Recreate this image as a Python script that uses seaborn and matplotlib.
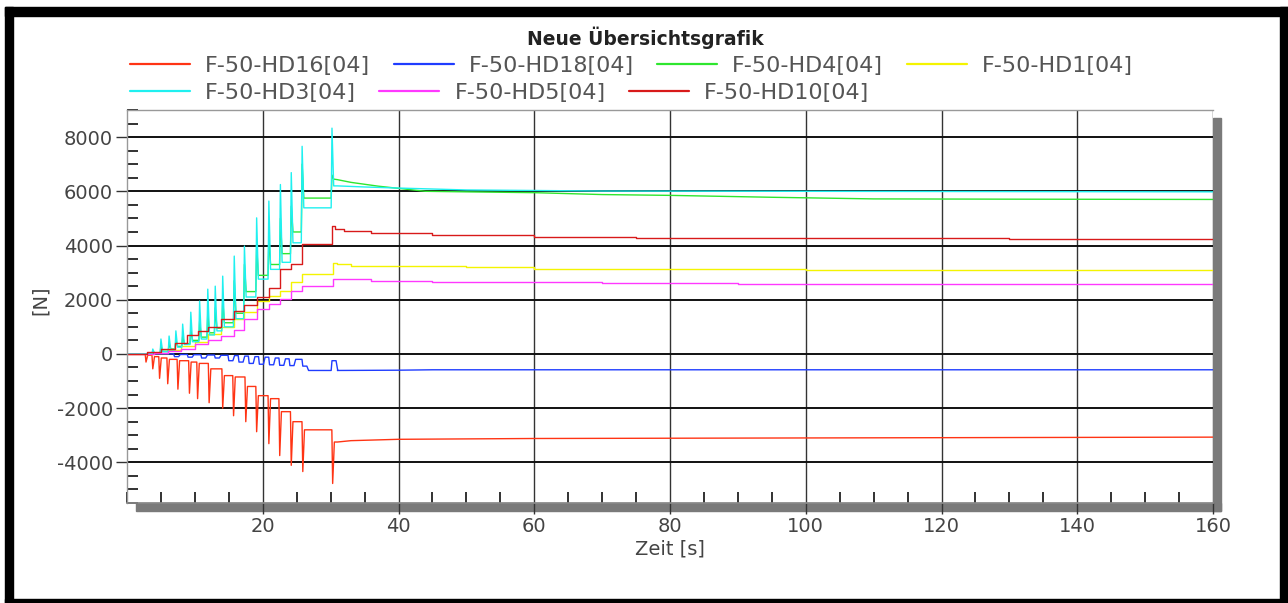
import pandas as pd
import matplotlib.pyplot as plt
import seaborn as sns
from matplotlib.patches import Rectangle
from matplotlib.lines import Line2D
from matplotlib.ticker import MultipleLocator

sns.set_theme(style="white")
plt.rcParams["font.family"] = ["DejaVu Sans"]
plt.rcParams["axes.unicode_minus"] = False

# ---- data ----
names = ["F-50-HD16[04]", "F-50-HD18[04]", "F-50-HD4[04]", "F-50-HD1[04]",
         "F-50-HD3[04]", "F-50-HD5[04]", "F-50-HD10[04]"]
colors = ["#ff3414", "#1f3cff", "#2ee62e", "#f4f400", "#1ff0f0", "#ff38ff", "#d81a1a"]

# HD3 (cyan): load spikes, level after each spike, then relaxation tail
hd3_spike_t = [3.8, 5.0, 6.2, 7.2, 8.2, 9.4, 10.7, 11.9, 13.0, 14.1, 15.8, 17.3, 19.1, 20.9, 22.6, 24.2, 25.8, 30.2]
hd3_peak = [180, 550, 660, 850, 1100, 1540, 1950, 2390, 2500, 2870, 3610, 3980, 5020, 5640, 6250, 6690, 7660, 8330]
hd3_base = [30, 80, 150, 250, 350, 450, 550, 700, 850, 1000, 1300, 2100, 2760, 3120, 3380, 4100, 5390, 6200]
hd3_tail_t = [31, 35, 40, 50, 60, 70, 100, 130, 160]
hd3_tail_v = [6200, 6160, 6120, 6050, 6030, 6010, 6000, 5990, 5980]

# HD4 (green)
hd4_peak = [100, 300, 400, 500, 650, 900, 1200, 1500, 1700, 2000, 2700, 3300, 4000, 4300, 5000, 5450, 7000, 6600]
hd4_base = [30, 100, 180, 280, 380, 500, 620, 780, 950, 1150, 1500, 2300, 2900, 3300, 3700, 4500, 5750, 6450]
hd4_tail_t = [31, 33, 37, 44, 50, 60, 70, 80, 95, 110, 130, 160]
hd4_tail_v = [6430, 6330, 6190, 6000, 5980, 5950, 5880, 5850, 5780, 5720, 5710, 5700]

# HD16 (red, negative)
hd16_spike_t = [2.8, 3.8, 4.8, 6.0, 7.5, 9.2, 10.4, 12.1, 14.1, 15.7, 17.5, 19.1, 20.9, 22.5, 24.2, 25.9, 30.3]
hd16_peak = [-300, -550, -900, -1100, -1300, -1450, -1650, -1800, -2000, -2280, -2500, -2870, -3310, -3750, -4110, -4340, -4780]
hd16_base = [-50, -100, -150, -200, -250, -300, -350, -550, -800, -850, -1200, -1540, -1650, -2130, -2500, -2800, -3250]
hd16_tail_t = [31, 33, 40, 60, 100, 120, 160]
hd16_tail_v = [-3250, -3200, -3150, -3120, -3100, -3090, -3070]

# HD18 (blue): small dips, then constant level
hd18_dip_t = [7, 9, 11, 13, 15, 16.5, 18, 19.5, 21, 22.5, 24, 25.9, 30.2]
hd18_dip = [-100, -120, -150, -150, -250, -300, -350, -380, -400, -420, -430, -450, -250]
hd18_base = [-20, -30, -40, -50, -60, -80, -100, -120, -150, -180, -200, -610, -610]
hd18_tail_t = [31, 40, 45, 160]
hd18_tail_v = [-610, -600, -585, -585]

# stair-like series (value held from each time to the next)
hd10_t = [0, 3, 5, 7, 8.8, 10.5, 11.9, 13.8, 15.7, 17.3, 19.1, 20.9, 22.6, 24.2, 25.8, 30.2, 30.6, 32, 36, 45, 60, 75, 90, 110, 130, 160]
hd10_v = [0, 80, 200, 400, 700, 850, 1000, 1300, 1600, 1800, 2100, 2450, 3150, 3300, 4050, 4720, 4600, 4520, 4450, 4380, 4330, 4290, 4270, 4260, 4240, 4240]
hd1_t = [0, 4, 6, 8, 10, 11.9, 13.8, 15.7, 17.3, 19.1, 20.9, 22.6, 24.2, 25.8, 30.3, 31, 33, 40, 50, 60, 75, 100, 130, 160]
hd1_v = [0, 50, 150, 300, 450, 750, 1000, 1300, 1540, 1960, 2150, 2330, 2650, 2940, 3370, 3300, 3260, 3230, 3200, 3150, 3130, 3110, 3100, 3090]
hd5_t = [0, 4, 6, 8, 10, 11.9, 13.8, 15.7, 17.3, 19.1, 20.9, 22.6, 24.2, 25.8, 30.3, 32, 36, 45, 60, 70, 90, 120, 160]
hd5_v = [0, 40, 100, 200, 350, 500, 650, 900, 1290, 1650, 1840, 2020, 2330, 2510, 2780, 2750, 2700, 2670, 2640, 2610, 2590, 2590, 2580]


def spiky(spike_t, peak, base, tail_t, tail_v, hold=0.0):
    ts, vs = [0.0, spike_t[0] - 0.5], [0.0, 0.0]
    prev = 0.0
    for t, p, b in zip(spike_t, peak, base):
        ts += [t - 0.12, t, t + hold, t + hold + 0.25]
        vs += [prev, p, p, b]
        prev = b
    return ts + tail_t, vs + tail_v


series = {
    names[0]: spiky(hd16_spike_t, hd16_peak, hd16_base, hd16_tail_t, hd16_tail_v),
    names[1]: spiky(hd18_dip_t, hd18_dip, hd18_base, hd18_tail_t, hd18_tail_v, hold=0.6),
    names[2]: spiky(hd3_spike_t, hd4_peak, hd4_base, hd4_tail_t, hd4_tail_v),
    names[3]: (hd1_t, hd1_v),
    names[4]: spiky(hd3_spike_t, hd3_peak, hd3_base, hd3_tail_t, hd3_tail_v),
    names[5]: (hd5_t, hd5_v),
    names[6]: (hd10_t, hd10_v),
}
stairs = {names[3], names[5], names[6]}

W, H = 1288, 603
fig = plt.figure(figsize=(W / 100, H / 100), dpi=100)


def fx(px):
    return px / W


def fy(py):
    return 1 - py / H


ax = fig.add_axes([fx(127), fy(503), fx(1213) - fx(127), fy(110) - fy(503)])

for name, col in zip(names, colors):
    t, v = series[name]
    df = pd.DataFrame({"t": t, "F": v})
    sns.lineplot(data=df, x="t", y="F", ax=ax, color=col, lw=1.0, sort=False,
                 estimator=None, drawstyle="steps-post" if name in stairs else "default")

ax.set_xlim(0, 160)
ax.set_ylim(-5500, 9000)
ax.set_xticks(range(20, 161, 20))
ax.set_yticks(range(-4000, 8001, 2000))
ax.xaxis.set_minor_locator(MultipleLocator(5))
ax.yaxis.set_minor_locator(MultipleLocator(500))
ax.set_xlabel("")
ax.set_ylabel("")
ax.set_axisbelow(True)
ax.xaxis.grid(True, which="major", color="#333333", lw=1.0)
ax.yaxis.grid(True, which="major", color="#111111", lw=1.4)
ax.tick_params(which="both", bottom=True, left=True, top=False, right=False)
ax.tick_params(which="major", direction="out", length=8, width=1, color="#333",
               labelsize=14, labelcolor="#444", pad=2)
ax.tick_params(which="minor", direction="in", length=8, width=1.3, color="#222")
for s in ["left", "top"]:
    ax.spines[s].set_color("#999")
    ax.spines[s].set_linewidth(1)
ax.spines["right"].set_visible(False)
ax.spines["bottom"].set_color("#888")

# drop shadow of the plot area
fig.add_artist(Rectangle((fx(136), fy(511)), fx(1221) - fx(136), fy(503) - fy(511),
                         transform=fig.transFigure, color="#7a7a7a", zorder=-1))
fig.add_artist(Rectangle((fx(1213), fy(511)), fx(1221) - fx(1213), fy(118) - fy(511),
                         transform=fig.transFigure, color="#7a7a7a", zorder=-1))

# black screenshot frame
for x0, y0, x1, y1 in [(5, 7, 13, 603), (5, 7, 1288, 16), (1280, 7, 1288, 603), (5, 599, 1288, 603)]:
    fig.add_artist(Rectangle((fx(x0), fy(y1)), fx(x1) - fx(x0), fy(y0) - fy(y1),
                             transform=fig.transFigure, color="black", zorder=5))

fig.text(fx(645), fy(38), "Neue Übersichtsgrafik", ha="center", va="center",
         fontsize=13.5, fontweight="bold", color="#222")
fig.text(fx(40), fy(300), "[N]", rotation=90, ha="center", va="center", fontsize=14, color="#444")
fig.text(fx(670), fy(549), "Zeit [s]", ha="center", va="center", fontsize=14, color="#444")

handles = [Line2D([], [], color=c, lw=1.6) for c in colors]
leg_kw = dict(loc="center left", frameon=False, fontsize=16, handlelength=2.7,
              handletextpad=0.68, columnspacing=1.05, borderpad=0, borderaxespad=0,
              labelcolor="#555")
fig.legend(handles[:4], names[:4], ncol=4, bbox_to_anchor=(fx(130), fy(66)), **leg_kw)
fig.legend(handles[4:], names[4:], ncol=3, bbox_to_anchor=(fx(130), fy(93)), **leg_kw)

fig.savefig("out.png", dpi=100)
